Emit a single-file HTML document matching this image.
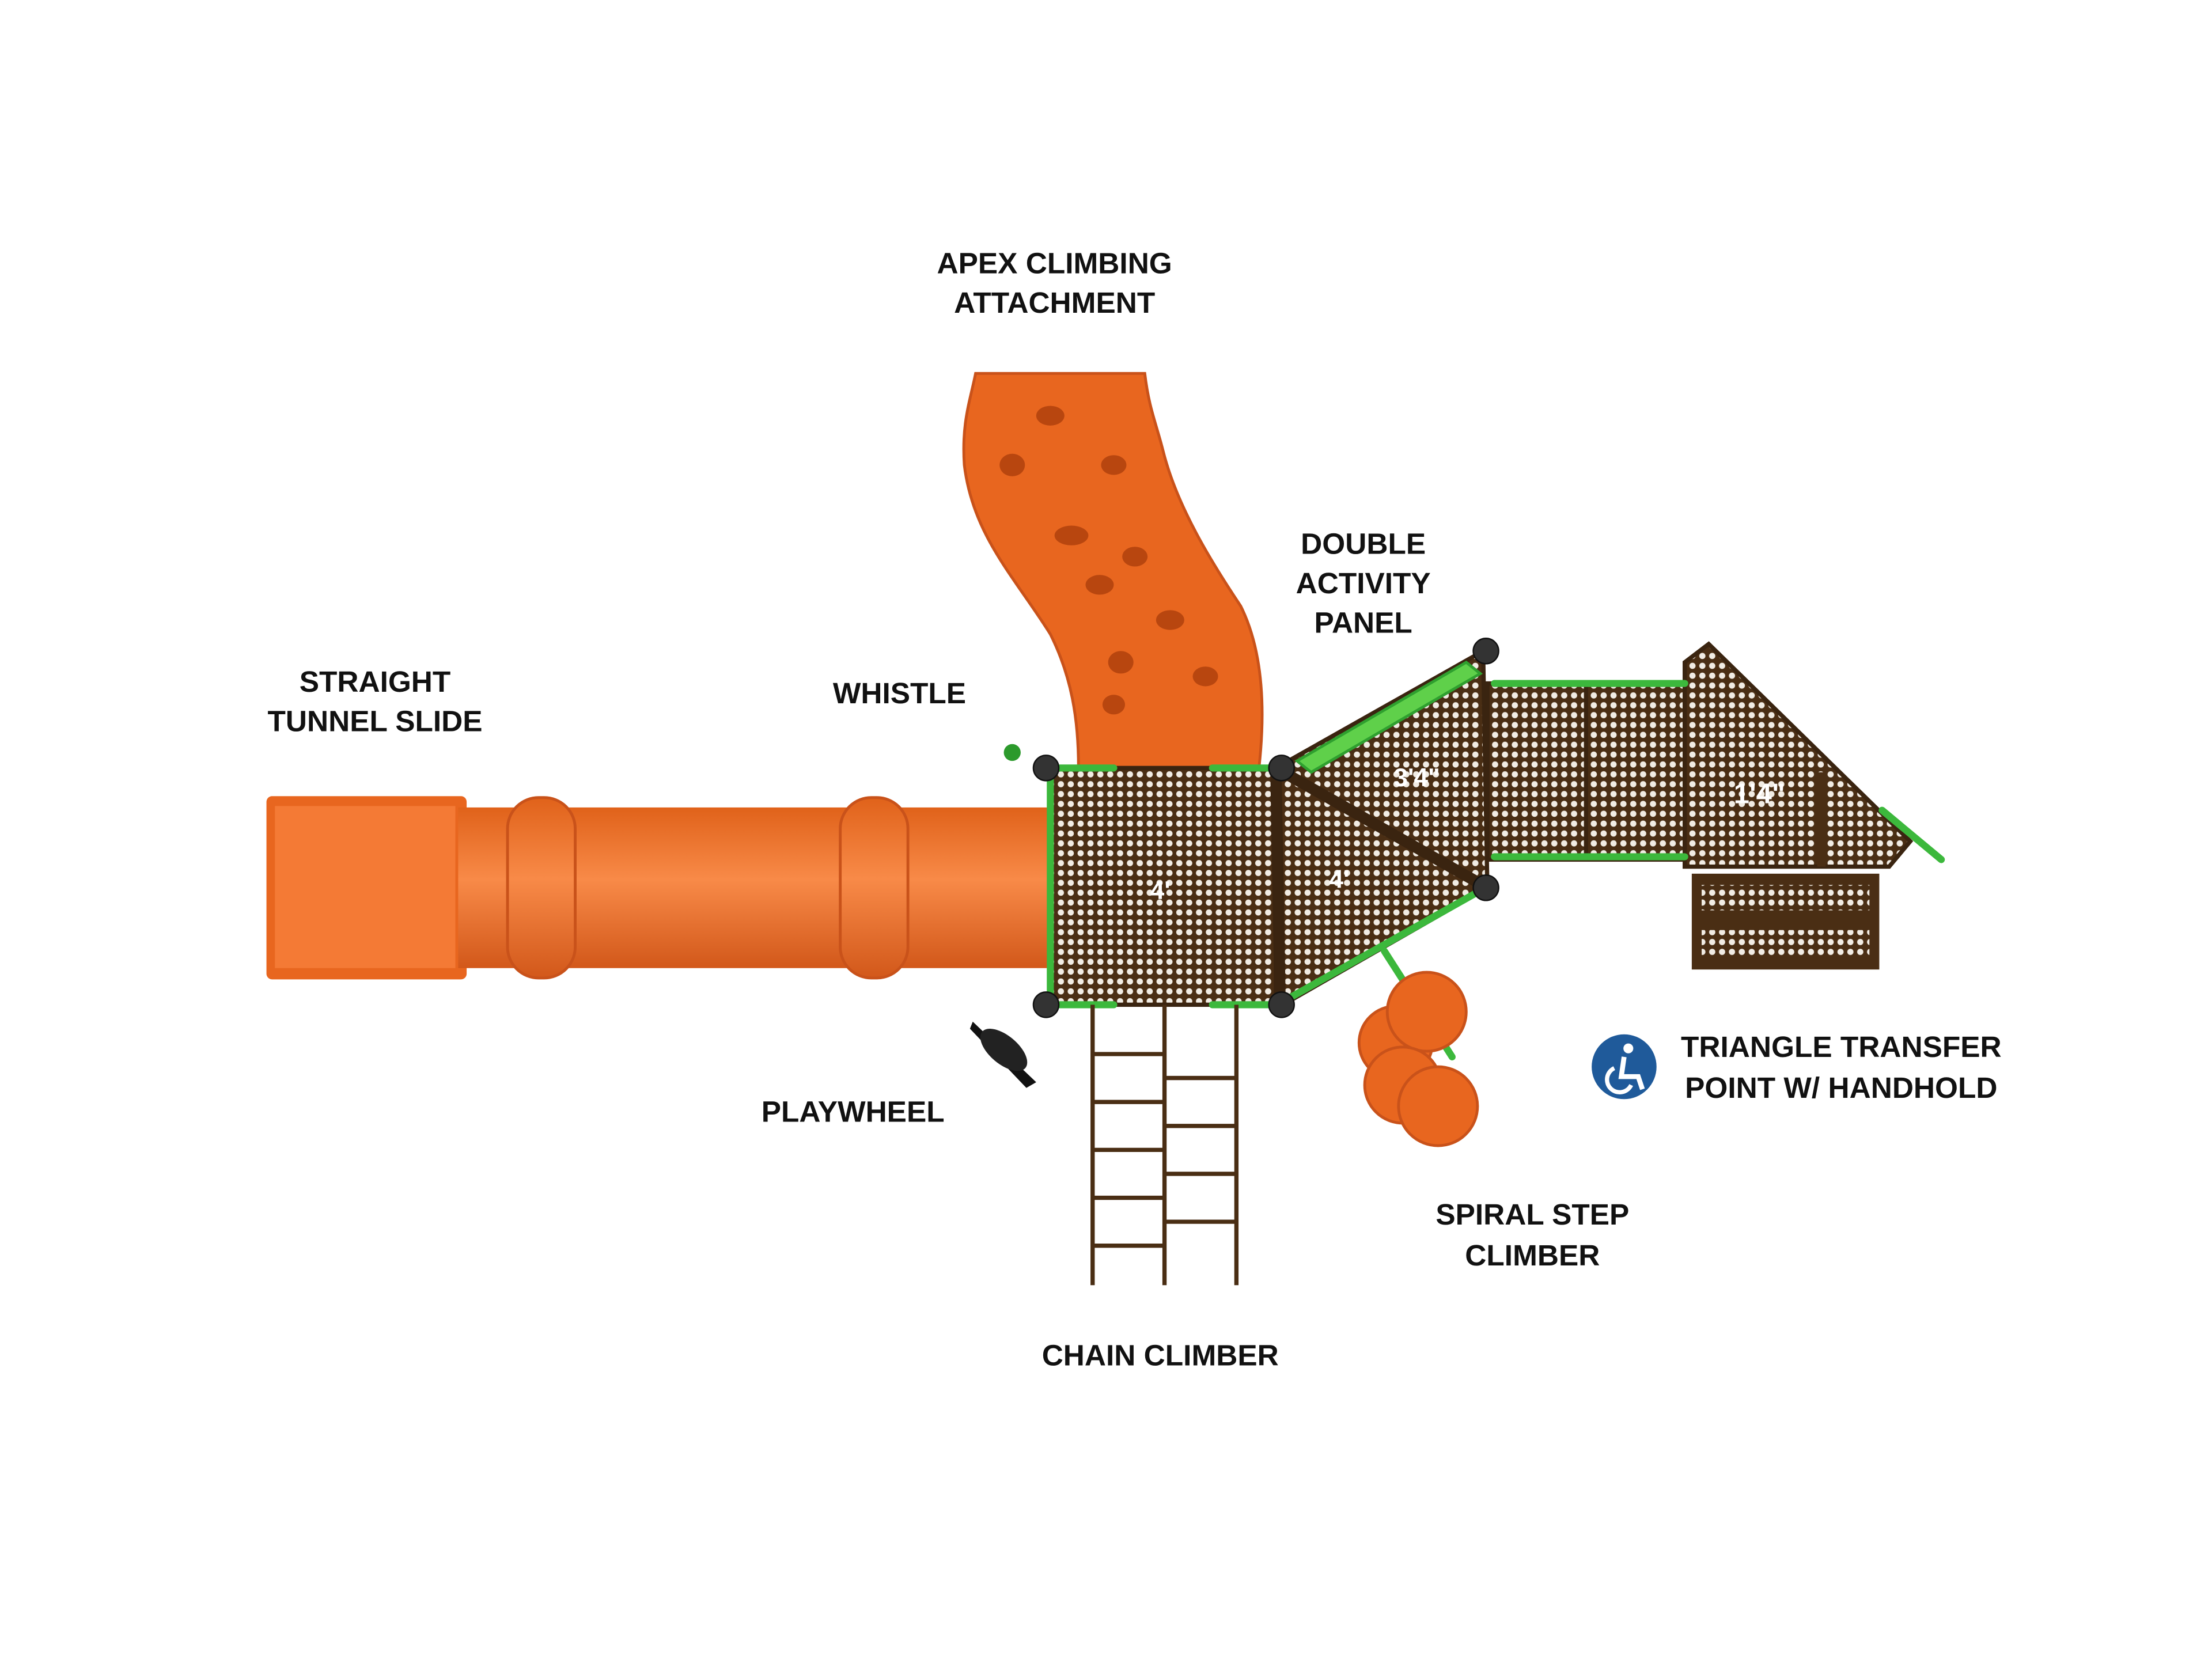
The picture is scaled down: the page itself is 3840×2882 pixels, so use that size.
<!DOCTYPE html>
<html><head><meta charset="utf-8"><style>
html,body{margin:0;padding:0;background:#fff;}
svg{display:block;}
text{font-family:"Liberation Sans",sans-serif;font-weight:bold;fill:#111;font-size:21px;text-anchor:middle;}
</style></head><body>
<svg width="3840" height="2882" viewBox="0 0 1569 1178" preserveAspectRatio="none" xmlns="http://www.w3.org/2000/svg">
<defs>
<pattern id="dots" width="7" height="7" patternUnits="userSpaceOnUse">
<rect width="7" height="7" fill="#4a2e14"/><circle cx="3.5" cy="3.5" r="2.2" fill="#f1ece4"/>
</pattern>
<linearGradient id="tube" x1="0" y1="0" x2="0" y2="1">
<stop offset="0" stop-color="#e0621a"/><stop offset="0.45" stop-color="#f88a48"/><stop offset="1" stop-color="#d2581a"/>
</linearGradient>
</defs>
<rect width="1569" height="1178" fill="#fff"/>

<text x="748" y="194">APEX CLIMBING</text>
<text x="748" y="222">ATTACHMENT</text>
<text x="967" y="393">DOUBLE</text>
<text x="967" y="421">ACTIVITY</text>
<text x="967" y="449">PANEL</text>
<text x="266" y="491">STRAIGHT</text>
<text x="266" y="519">TUNNEL SLIDE</text>
<text x="638" y="499">WHISTLE</text>
<text x="605" y="796">PLAYWHEEL</text>
<text x="823" y="969">CHAIN CLIMBER</text>
<text x="1087" y="869">SPIRAL STEP</text>
<text x="1087" y="898">CLIMBER</text>
<text x="1306" y="750">TRIANGLE TRANSFER</text>
<text x="1306" y="779">POINT W/ HANDHOLD</text>
<circle cx="1152" cy="757" r="23" fill="#1f5a9a"/>
<circle cx="1155" cy="744" r="3.5" fill="#fff"/>
<path d="M1152 750 L1150 764 L1162 764 L1165 773" stroke="#fff" stroke-width="3.5" fill="none"/>
<path d="M1145 758 a9 9 0 1 0 12 12" stroke="#fff" stroke-width="3" fill="none"/>

<rect x="189" y="565" width="142" height="130" rx="4" fill="#e8661f"/>
<rect x="195" y="572" width="128" height="115" fill="#f47a35"/>
<rect x="325" y="573" width="420" height="114" fill="url(#tube)"/>
<rect x="360" y="566" width="48" height="128" rx="22" fill="url(#tube)" stroke="#c9521a" stroke-width="2"/>
<rect x="596" y="566" width="48" height="128" rx="22" fill="url(#tube)" stroke="#c9521a" stroke-width="2"/>

<path d="M692 265 L812 265 C815 290 820 300 825 320 C835 360 860 400 880 430 C895 460 898 500 893 545 L765 545 C765 510 760 480 745 450 C720 410 690 380 684 330 C682 300 688 285 692 265 Z" fill="#e8661f" stroke="#c9521a" stroke-width="2"/>
<g fill="#b8460f">
<ellipse cx="745" cy="295" rx="10" ry="7"/><ellipse cx="718" cy="330" rx="9" ry="8"/>
<ellipse cx="790" cy="330" rx="9" ry="7"/><ellipse cx="760" cy="380" rx="12" ry="7"/>
<ellipse cx="805" cy="395" rx="9" ry="7"/><ellipse cx="780" cy="415" rx="10" ry="7"/>
<ellipse cx="830" cy="440" rx="10" ry="7"/><ellipse cx="795" cy="470" rx="9" ry="8"/>
<ellipse cx="855" cy="480" rx="9" ry="7"/><ellipse cx="790" cy="500" rx="8" ry="7"/>
</g>

<rect x="745" y="545" width="160" height="168" fill="url(#dots)" stroke="#3a2410" stroke-width="3"/>
<polygon points="905,545 1052,462 1055,630 910,713" fill="url(#dots)" stroke="#3a2410" stroke-width="3"/>
<line x1="905" y1="545" x2="1055" y2="630" stroke="#3a2410" stroke-width="8"/>
<line x1="905" y1="545" x2="908" y2="713" stroke="#3a2410" stroke-width="8"/>
<rect x="1055" y="485" width="140" height="125" fill="url(#dots)" stroke="#3a2410" stroke-width="3"/>
<line x1="1125" y1="485" x2="1125" y2="610" stroke="#3a2410" stroke-width="3"/>
<polygon points="1195,470 1212,457 1355,597 1340,615 1195,615" fill="url(#dots)" stroke="#3a2410" stroke-width="3"/>
<line x1="1292" y1="548" x2="1292" y2="615" stroke="#4a2e14" stroke-width="6"/>
<rect x="1200" y="620" width="133" height="68" fill="#4a2e14"/>
<rect x="1207" y="628" width="119" height="18" fill="url(#dots)"/>
<rect x="1207" y="660" width="119" height="18" fill="url(#dots)"/>
<text x="823" y="638" style="fill:#fff;font-size:18px">4'</text>
<text x="950" y="630" style="fill:#fff;font-size:18px">4'</text>
<text x="1005" y="558" style="fill:#fff;font-size:18px">3'4"</text>
<text x="1248" y="570" style="fill:#fff;font-size:20px">1'4"</text>

<g stroke="#3cb83c" stroke-width="5" fill="none" stroke-linecap="round">
<line x1="745" y1="550" x2="745" y2="705"/>
<line x1="752" y1="545" x2="790" y2="545"/><line x1="860" y1="545" x2="900" y2="545"/>
<line x1="752" y1="713" x2="790" y2="713"/><line x1="860" y1="713" x2="900" y2="713"/>
<line x1="915" y1="708" x2="1050" y2="632"/>
<line x1="1060" y1="485" x2="1195" y2="485"/><line x1="1060" y1="608" x2="1195" y2="608"/>
<line x1="1335" y1="575" x2="1377" y2="610"/>
<line x1="982" y1="675" x2="1030" y2="750"/>
</g>
<path d="M920 540 L1040 470 L1050 478 L930 548 Z" fill="#5fd04a" stroke="#2fa02f" stroke-width="2"/>
<circle cx="718" cy="534" r="6" fill="#2c9a2c"/>

<g fill="#333" stroke="#111" stroke-width="1">
<circle cx="742" cy="545" r="9"/><circle cx="909" cy="545" r="9"/>
<circle cx="742" cy="713" r="9"/><circle cx="909" cy="713" r="9"/>
<circle cx="1054" cy="462" r="9"/><circle cx="1054" cy="630" r="9"/>
</g>

<path d="M690 725 L735 768 L728 772 L688 730 Z" fill="#111"/>
<ellipse cx="712" cy="745" rx="20" ry="10" transform="rotate(40 712 745)" fill="#222"/>

<g stroke="#4a2e14" stroke-width="3">
<line x1="775" y1="713" x2="775" y2="912"/><line x1="826" y1="713" x2="826" y2="912"/><line x1="877" y1="713" x2="877" y2="912"/>
<line x1="775" y1="748" x2="826" y2="748"/><line x1="775" y1="782" x2="826" y2="782"/><line x1="775" y1="816" x2="826" y2="816"/><line x1="775" y1="850" x2="826" y2="850"/><line x1="775" y1="884" x2="826" y2="884"/>
<line x1="826" y1="765" x2="877" y2="765"/><line x1="826" y1="799" x2="877" y2="799"/><line x1="826" y1="833" x2="877" y2="833"/><line x1="826" y1="867" x2="877" y2="867"/>
</g>

<g fill="#e8661f" stroke="#c9521a" stroke-width="2">
<circle cx="990" cy="740" r="26"/><circle cx="1012" cy="718" r="28"/>
<circle cx="995" cy="770" r="27"/><circle cx="1020" cy="785" r="28"/>
</g>
</svg>
</body></html>
